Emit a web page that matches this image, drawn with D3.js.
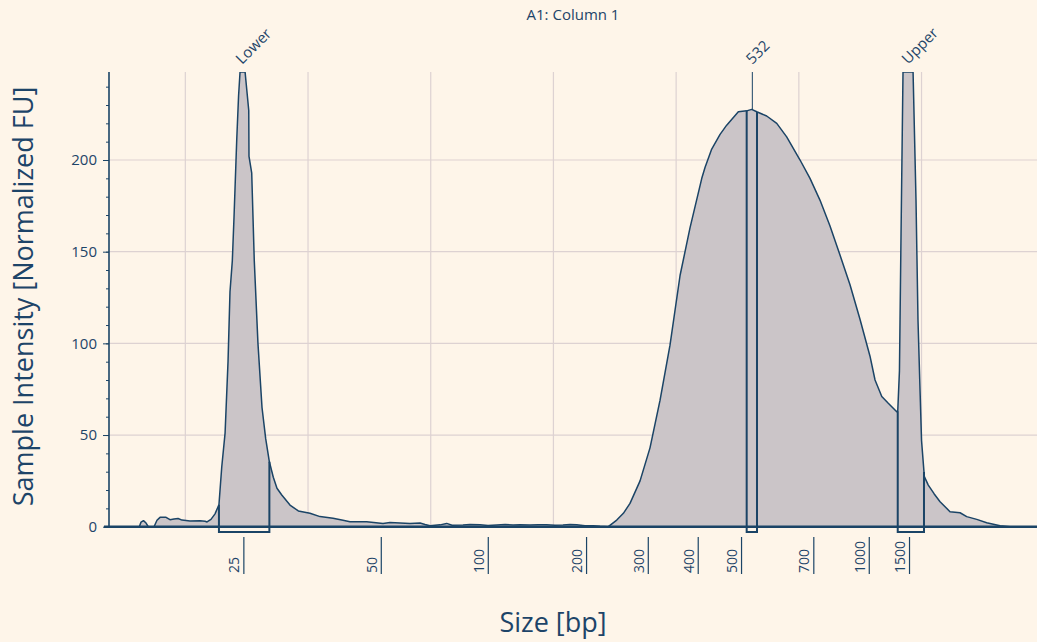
<!DOCTYPE html>
<meta charset="utf-8">
<style>
  body { margin: 0; background: #fef5e9; }
  svg { display: block; }
  text { font-family: "Open Sans", Lato, sans-serif; fill: #1d4468; }
</style>

<!-- Load d3.js -->
<script src="https://d3js.org/d3.v7.min.js"></script>

<!-- Create a div where the graph will take place -->
<div id="my_dataviz"></div>

<script>

  // electropherogram trace: migration position (run units, gridline every 10) and intensity
  var position = [5.98, 6.25, 6.39, 6.59, 6.80, 6.98, 7.45, 7.69, 7.94, 8.43, 8.75, 9.08, 9.41, 9.73,
    10.38, 11.20, 11.61, 11.77, 12.09, 12.42, 12.74, 12.97, 13.24, 13.48, 13.64, 13.83, 13.97, 14.19,
    14.34, 14.46, 14.87, 15.17, 15.19, 15.41, 15.62, 15.92, 16.25, 16.55, 16.85, 17.17, 17.47, 17.86,
    18.53, 19.21, 20.16, 20.98, 22.04, 22.85, 23.42, 24.78, 26.11, 26.68, 27.50, 28.31, 29.13, 29.54,
    29.94, 30.76, 31.30, 31.74, 32.63, 33.20, 34.02, 34.67, 35.38, 36.06, 36.71, 37.28, 38.09, 38.74,
    39.45, 40.13, 40.78, 41.35, 41.90, 42.57, 43.25, 43.80, 44.47, 45.16, 45.70, 46.24, 47.06, 47.87,
    48.69, 49.50, 50.32, 51.13, 52.09, 52.36, 52.90, 53.58, 54.12, 55.07, 55.75, 56.16, 56.57, 57.38,
    58.20, 59.01, 60.10, 60.91, 61.73, 62.54, 63.36, 64.17, 64.99, 65.80, 66.21, 66.76, 67.29, 67.98,
    68.06, 68.20, 68.33, 68.49, 69.31, 69.55, 69.71, 69.88, 70.00, 70.23, 70.55, 71.02, 71.51, 72.32,
    73.14, 73.68, 74.50, 75.31, 76.40, 77.21, 79.41];
  var intensity = [0, 0, 2.5, 3.3, 2, 0, 0, 3.5, 5.1, 5.1, 3.8, 4.2, 4.5, 3.6,
    3.1, 3.2, 3, 2.6, 4, 7, 12, 32.7, 51, 90, 128, 145, 169, 211,
    235, 248, 248, 227, 202, 193, 145, 100, 65, 48, 35.4, 27, 21, 17.3,
    11.8, 8.6, 7.3, 5.5, 4.6, 3.5, 2.7, 2.7, 1.8, 2.3, 2, 1.8, 2, 1.2,
    0.5, 1, 1.8, 0.8, 0.9, 1.2, 1, 0.6, 0.9, 1.2, 0.9, 1.1, 0.9, 1.1,
    1, 0.8, 0.9, 1.2, 1, 0.5, 0.5, 0.2, 0, 3.6, 7.3, 12.7, 25, 43,
    69, 99, 137, 163, 190, 196, 206, 214, 219, 226.3, 226.8, 227.6, 226.3, 224,
    220, 212.6, 200, 190, 178, 164, 148, 132, 113, 93, 80, 71, 67.3, 62.7,
    63, 85, 160, 248, 248, 178, 113, 74, 47, 27.3, 22.7, 18, 13.6, 8.2,
    7.6, 5.5, 4, 2.2, 0.5, 0, 0];

  // ladder (size standard) ticks
  var ladderBp = [25, 50, 100, 200, 300, 400, 500, 700, 1000, 1500];
  var ladderPos = [14.73, 25.93, 34.65, 42.66, 47.69, 51.76, 55.29, 61.18, 65.70, 68.98];

  // called peaks
  var peakNames = ["Lower", "532", "Upper"];
  var peakApex = [14.62, 56.21, 68.90];
  var peakStart = [12.74, 55.75, 68.06];
  var peakEnd = [16.85, 56.59, 70.20];

  var gridX = [10, 20, 30, 40, 50, 60, 70];
  var yMajor = [0, 50, 100, 150, 200];
  var yMinor = d3.range(0, 250, 10);

  // set the dimensions and margins of the graph
  var margin = {top: 72, right: 0, bottom: 115.3, left: 109},
      width = 1037 - margin.left - margin.right,
      height = 642 - margin.top - margin.bottom;

  var ink = "#1b4466";

  var root = d3.select("#my_dataviz")
    .append("svg")
      .attr("width", 1037)
      .attr("height", 642);

  root.append("rect")
    .attr("width", 1037).attr("height", 642)
    .attr("fill", "#fef5e9");

  // title
  root.append("text")
    .attr("x", 573).attr("y", 20)
    .attr("text-anchor", "middle")
    .style("font-size", "15px")
    .text("A1: Column 1");

  // axis titles
  root.append("text")
    .attr("transform", "translate(33,296.5) rotate(-90)")
    .attr("text-anchor", "middle")
    .style("font-size", "27px")
    .text("Sample Intensity [Normalized FU]");

  root.append("text")
    .attr("x", 553).attr("y", 631.5)
    .attr("text-anchor", "middle")
    .style("font-size", "27px")
    .text("Size [bp]");

  var svg = root.append("g")
      .attr("transform", "translate(" + margin.left + "," + margin.top + ")");

  var x = d3.scaleLinear()
    .domain([3.78, 79.41])
    .range([0, width]);

  var y = d3.scaleLinear()
    .domain([0, 248])
    .range([height, 0]);

  // grid
  svg.append("g").selectAll("line.h")
    .data(yMajor.filter(function(d) { return d > 0; }))
    .enter().append("line")
      .attr("x1", 0).attr("x2", width)
      .attr("y1", function(d) { return y(d); })
      .attr("y2", function(d) { return y(d); })
      .attr("stroke", "#ddd2d2").attr("stroke-width", 1.2);

  svg.append("g").selectAll("line.v")
    .data(gridX)
    .enter().append("line")
      .attr("y1", 0).attr("y2", height)
      .attr("x1", function(d) { return x(d); })
      .attr("x2", function(d) { return x(d); })
      .attr("stroke", "#ddd2d2").attr("stroke-width", 1.2);

  // clip to plot area (peaks saturate at the top)
  svg.append("clipPath").attr("id", "clip")
    .append("rect").attr("x", 0).attr("y", 0).attr("width", width).attr("height", height);

  var trace = position.map(function(p, i) { return {p: p, v: intensity[i]}; });

  svg.append("path")
    .datum(trace)
    .attr("clip-path", "url(#clip)")
    .attr("fill", "#cbc5c8")
    .attr("stroke", ink)
    .attr("stroke-width", 1.5)
    .attr("stroke-linejoin", "round")
    .attr("d", d3.area()
      .x(function(d) { return x(d.p); })
      .y0(height)
      .y1(function(d) { return y(Math.min(d.v, 248)); })
    );

  // intensity at any position (linear between trace points)
  var bis = d3.bisector(function(d) { return d; }).left;
  function valueAt(p) {
    var i = bis(position, p);
    if (i <= 0) return intensity[0];
    if (i >= position.length) return intensity[position.length - 1];
    var t = (p - position[i - 1]) / (position[i] - position[i - 1]);
    return intensity[i - 1] + t * (intensity[i] - intensity[i - 1]);
  }

  // peak boxes
  peakNames.forEach(function(name, i) {
    var s = peakStart[i], e = peakEnd[i];
    svg.append("path")
      .attr("fill", "none")
      .attr("stroke", ink)
      .attr("stroke-width", 2)
      .attr("d", "M" + x(s) + "," + y(Math.min(valueAt(s), 248)) +
                 "V" + (height + 5.3) + "H" + x(e) + "V" + y(Math.min(valueAt(e), 248)));

    svg.append("line")
      .attr("x1", x(peakApex[i])).attr("x2", x(peakApex[i]))
      .attr("y1", 0).attr("y2", y(Math.min(valueAt(peakApex[i]), 248)))
      .attr("stroke", ink).attr("stroke-width", 1);

    svg.append("text")
      .attr("transform", "translate(" + x(peakApex[i]) + ",-7) rotate(-45)")
      .style("font-size", "15px")
      .text(name);
  });

  // Y axis: major and minor ticks
  var yAxisMinor = svg.append("g")
    .call(d3.axisLeft(y).tickValues(yMinor).tickSize(3).tickSizeOuter(0).tickFormat(""));
  yAxisMinor.select(".domain").remove();
  yAxisMinor.selectAll("line").attr("stroke", ink);

  var yAxis = svg.append("g")
    .call(d3.axisLeft(y).tickValues(yMajor).tickSize(6).tickSizeOuter(0).tickPadding(6));
  yAxis.select(".domain").remove();
  yAxis.selectAll("line").attr("stroke", ink);
  yAxis.selectAll("text")
    .style("font-size", "15px")
    .style("font-family", "'Open Sans', sans-serif")
    .attr("fill", "#1d4468");

  svg.append("line")
    .attr("x1", 0).attr("x2", 0).attr("y1", 0).attr("y2", height)
    .attr("stroke", ink).attr("stroke-width", 1.6);

  // baseline
  svg.append("line")
    .attr("x1", -5).attr("x2", width).attr("y1", height).attr("y2", height)
    .attr("stroke", ink).attr("stroke-width", 2.5);

  // X axis: ladder sizes
  var xAxis = svg.append("g")
    .attr("transform", "translate(0," + (height + 10.3) + ")")
    .call(d3.axisBottom(x).tickValues(ladderPos).tickSize(37).tickSizeOuter(0)
      .tickFormat(function(d, i) { return ladderBp[i]; }));
  xAxis.select(".domain").remove();
  xAxis.selectAll("line").attr("stroke", ink).attr("stroke-width", 1.2);
  xAxis.selectAll("text")
    .attr("x", 0).attr("y", 0).attr("dy", null)
    .attr("transform", "translate(-4.5,36) rotate(-90)")
    .style("text-anchor", "start")
    .style("font-size", "14px")
    .style("font-family", "'Open Sans', sans-serif")
    .attr("fill", "#1d4468");

</script>
